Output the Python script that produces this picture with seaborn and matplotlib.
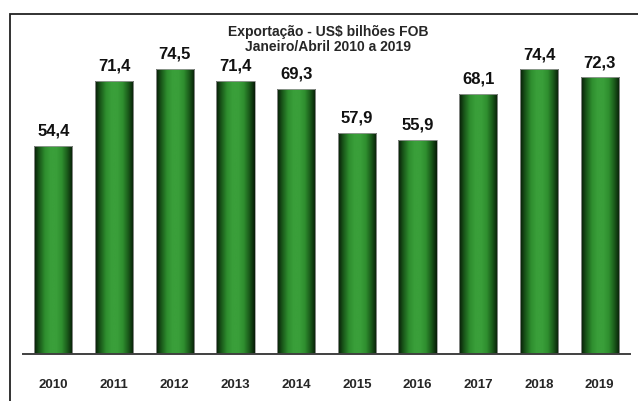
import numpy as np
import pandas as pd
import seaborn as sns
import matplotlib.pyplot as plt
from matplotlib.colors import LinearSegmentedColormap
from matplotlib.patches import Rectangle

# data
anos = ['2010', '2011', '2012', '2013', '2014', '2015', '2016', '2017', '2018', '2019']
valores = [54.4, 71.4, 74.5, 71.4, 69.3, 57.9, 55.9, 68.1, 74.4, 72.3]
rotulos = ['54,4', '71,4', '74,5', '71,4', '69,3', '57,9', '55,9', '68,1', '74,4', '72,3']

df = pd.DataFrame({'ano': anos, 'valor': valores})

sns.set_style('white')
plt.rcParams['font.family'] = ['Liberation Sans', 'DejaVu Sans']

fig = plt.figure(figsize=(6.38, 4.02), dpi=100)
W, H = 638, 402
# axes placed in pixel terms: baseline at y=355, x from 23 to 630
ax = fig.add_axes([23 / W, 1 - 355 / H, 607 / W, 306 / H])

sns.barplot(data=df, x='ano', y='valor', color='#2f8a2f', width=0.63,
            edgecolor='#9a9a9a', linewidth=0.6, ax=ax)
ax.set_ylim(0, 80)
ax.set_xlim(-0.5, len(anos) - 0.5)

# cylinder-like shading on each bar
cmap = LinearSegmentedColormap.from_list(
    'cil', ['#071a07', '#1a5a1a', '#2f8f2f', '#3a9f3a', '#3a9f3a', '#2f8f2f', '#1a5a1a', '#071a07'])
grad = np.linspace(0, 1, 256).reshape(1, -1)
for p in list(ax.patches):
    x0, y0 = p.get_x(), p.get_y()
    w, h = p.get_width(), p.get_height()
    im = ax.imshow(grad, cmap=cmap, aspect='auto', extent=[x0, x0 + w, y0, y0 + h],
                   zorder=p.get_zorder() + 0.1, interpolation='bilinear')
    im.set_clip_path(p)
    p.set_zorder(p.get_zorder() + 0.2)
    p.set_facecolor('none')
ax.set_xlim(-0.5, len(anos) - 0.5)
ax.set_ylim(0, 80)

for i, (v, r) in enumerate(zip(valores, rotulos)):
    ax.text(i, v + 2.2, r, ha='center', va='bottom', fontsize=12, fontweight='bold', color='#111111')

for s in ['top', 'right', 'left']:
    ax.spines[s].set_visible(False)
ax.spines['bottom'].set_color('#404040')
ax.spines['bottom'].set_linewidth(1.4)
ax.set_yticks([])
ax.set_xlabel('')
ax.set_ylabel('')
ax.tick_params(axis='x', length=0, pad=17, labelsize=9.5)
for t in ax.get_xticklabels():
    t.set_fontweight('bold')

fig.text(328 / W, 1 - 32 / H, 'Exportação - US$ bilhões FOB', ha='center', va='center',
         fontsize=10, fontweight='bold')
fig.text(328 / W, 1 - 47 / H, 'Janeiro/Abril 2010 a 2019', ha='center', va='center',
         fontsize=10, fontweight='bold')

# outer frame (cropped at right/bottom)
fig.patches.append(Rectangle((10 / W, -0.05), 1.1, 1 - 15 / H + 0.05, transform=fig.transFigure,
                             fill=False, edgecolor='#222222', linewidth=1.3, clip_on=False))

fig.savefig('out.png', dpi=100)
